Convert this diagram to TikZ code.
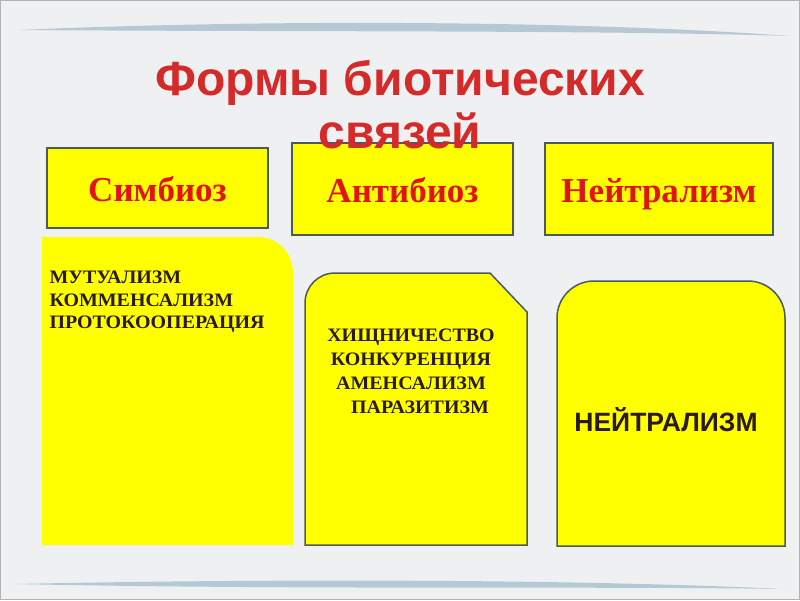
\documentclass[tikz,border=0pt]{standalone}
\usepackage{fontspec}
\setmainfont{Liberation Serif}
\newfontfamily\headfont{Liberation Sans}
\newfontfamily\listfont[FakeStretch=1.05]{Liberation Serif}
\usetikzlibrary{shapes.geometric}
\definecolor{boxyellow}{HTML}{FFFF00}
\definecolor{edgegray}{HTML}{4B5A5A}
\definecolor{kindred}{HTML}{E01414}
\definecolor{headred}{HTML}{D42A2A}
\definecolor{inkdark}{HTML}{2A1A1E}
\definecolor{paper}{HTML}{EEF0F1}
\definecolor{swooshblue}{HTML}{9DB8C8}
\tikzstyle{kind} = [rectangle, draw=edgegray, line width=1.5pt, fill=boxyellow, text=kindred, text centered, text height=30pt, text depth=4pt, font=\bfseries\fontsize{35}{40}\selectfont]
\tikzstyle{panel} = [draw=edgegray, line width=1.5pt, fill=boxyellow]
\tikzstyle{listing} = [text=inkdark, font=\listfont\bfseries\fontsize{19}{22.5}\selectfont]
\tikzstyle{swoosh} = [fill=swooshblue, fill opacity=0.7]

\begin{document}
\begin{tikzpicture}[x=1pt,y=-1pt]
            \useasboundingbox (0,0) rectangle (800,600);
            \fill [paper] (0,0) rectangle (800,600);
            \fill [swoosh] (18,30) .. controls (300,18) and (600,22) .. (790,36) .. controls (600,30) and (300,32) .. (18,30);
            \fill [swoosh] (15,584) .. controls (300,578) and (600,580) .. (782,589) .. controls (600,586) and (300,590) .. (15,584);

            \node [kind, minimum width=221pt, minimum height=80pt] at (157.5,188) (symb) {Симбиоз};
            \node [kind, minimum width=221pt, minimum height=92pt] at (402.5,189) (anti) {Антибиоз};
            \node [kind, minimum width=228pt, minimum height=92pt] at (659,189) (neut) {Нейтрализм};

            \fill [boxyellow] (42,545) -- (42,237) -- (258,237) .. controls (277.3,237) and (293,252.7) .. (293,272) -- (293,545) -- cycle;
            \draw [panel] (305,545) -- (305,303) .. controls (305,286.4) and (318.4,273) .. (335,273) -- (490,273) -- (527,312) -- (527,545) -- cycle;
            \draw [panel] (557,546) -- (557,318) .. controls (557,297.6) and (573.6,281) .. (594,281) -- (748,281) .. controls (768.4,281) and (785,297.6) .. (785,318) -- (785,546) -- cycle;

            \node [listing, anchor=west, align=left] at (46,302) (symblist) {МУТУАЛИЗМ\\КОММЕНСАЛИЗМ\\ПРОТОКООПЕРАЦИЯ};
            \node [listing, align=center, font=\listfont\bfseries\fontsize{19}{24}\selectfont] at (411,371) (antilist) {ХИЩНИЧЕСТВО\\КОНКУРЕНЦИЯ\\АМЕНСАЛИЗМ\\\hspace*{18pt}ПАРАЗИТИЗМ};
            \node [text=inkdark, font=\headfont\bfseries\fontsize{26.5}{30}\selectfont] at (666,420) (neutlist) {НЕЙТРАЛИЗМ};

            \node [text=headred, align=center, anchor=north, font=\headfont\bfseries\fontsize{48}{53}\selectfont] at (400,57) (title) {Формы биотических\\связей};

            \draw [gray!60, line width=1pt] (0.5,0.5) rectangle (799.5,599.5);
            \end{tikzpicture}
\end{document}
